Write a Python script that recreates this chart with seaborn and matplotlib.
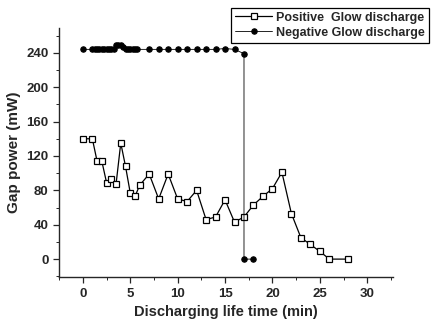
import numpy as np
import pandas as pd
import seaborn as sns
import matplotlib.pyplot as plt

# veriler
pos_time = [0, 1, 1.5, 2, 2.5, 3, 3.5, 4, 4.5, 5, 5.5, 6, 7, 8, 9, 10, 11, 12,
            13, 14, 15, 16, 17, 18, 19, 20, 21, 22, 23, 24, 25, 26, 28]
pos_power = [140, 140, 114, 114, 89, 93, 87, 135, 108, 77, 73, 86, 99, 70, 99, 70, 67, 80,
             46, 49, 69, 43, 49, 63, 73, 82, 101, 53, 25, 17, 9, 0, 0]

neg_time = [0, 1, 1.25, 1.5, 1.75, 2, 2.25, 2.5, 2.75, 3, 3.25, 3.5, 3.75, 4, 4.25,
            4.5, 4.75, 5, 5.25, 5.5, 5.75, 7, 8, 9, 10, 11, 12, 13, 14, 15, 16, 17, 17, 18]
neg_power = [244, 244, 244, 244, 244, 244, 244, 244, 244, 244, 245, 249, 249, 249, 247,
             244, 244, 244, 244, 244, 244, 244, 244, 244, 244, 244, 244, 244, 244, 245, 244, 239, 0, 0]

sns.set_style("ticks")
plt.rcParams["font.family"] = ["Liberation Sans", "DejaVu Sans"]
plt.rcParams["font.weight"] = "bold"

fig = plt.figure(figsize=(4.35, 3.28), dpi=100)
ax = fig.add_axes([0.136, 0.155, 0.767, 0.76])

df_pos = pd.DataFrame({"t": pos_time, "p": pos_power})
df_neg = pd.DataFrame({"t": neg_time, "p": neg_power})

sns.lineplot(data=df_pos, x="t", y="p", ax=ax, estimator=None, sort=False,
             color="black", linewidth=0.9, marker="s", markersize=4.6,
             markerfacecolor="white", markeredgecolor="black", markeredgewidth=0.9,
             label="Positive  Glow discharge")
sns.lineplot(data=df_neg, x="t", y="p", ax=ax, estimator=None, sort=False,
             color="black", linewidth=0.6, marker="o", markersize=3.9,
             markerfacecolor="black", markeredgecolor="black",
             label="Negative Glow discharge")

ax.set_xlim(-2.5, 32.7)
ax.set_ylim(-21, 269)
ax.set_xticks(range(0, 31, 5))
ax.set_yticks(range(0, 241, 40))
ax.set_xticks(np.arange(-2.5, 32.6, 2.5), minor=True)
ax.set_yticks(np.arange(-20, 261, 20), minor=True)
ax.tick_params(axis="both", which="major", labelsize=9.5, length=4, width=0.9)
ax.tick_params(axis="both", which="minor", length=2, width=0.7)
for lab in ax.get_xticklabels() + ax.get_yticklabels():
    lab.set_fontweight("bold")

ax.set_xlabel("Discharging life time (min)", fontsize=10.5, fontweight="bold")
ax.set_ylabel("Gap power (mW)", fontsize=11, fontweight="bold")
sns.despine(ax=ax)
for sp in ax.spines.values():
    sp.set_linewidth(1.0)

leg = ax.legend(loc="upper right", bbox_to_anchor=(1.0, 0.995), bbox_transform=fig.transFigure,
                fancybox=False, framealpha=1, edgecolor="black", fontsize=9,
                handlelength=3.0, handletextpad=0.3, borderpad=0.3, labelspacing=0.25)
leg.get_frame().set_linewidth(0.9)
for t in leg.get_texts():
    t.set_fontweight("bold")

fig.savefig("out.png", dpi=100)
